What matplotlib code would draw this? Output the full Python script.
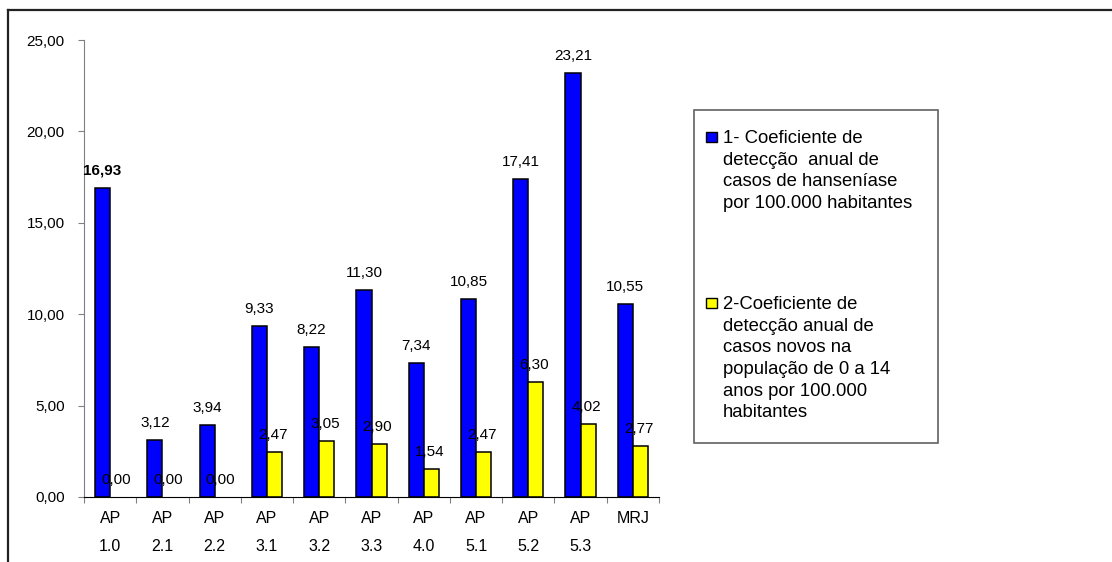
import numpy as np
import matplotlib.pyplot as plt
from matplotlib.lines import Line2D
from matplotlib.patches import Rectangle

plt.rcParams["font.family"] = ["Liberation Sans", "DejaVu Sans"]

areas = ["AP\n1.0", "AP\n2.1", "AP\n2.2", "AP\n3.1", "AP\n3.2", "AP\n3.3",
         "AP\n4.0", "AP\n5.1", "AP\n5.2", "AP\n5.3", "MRJ"]
coef_total = [16.93, 3.12, 3.94, 9.33, 8.22, 11.30, 7.34, 10.85, 17.41, 23.21, 10.55]
coef_0a14 = [0.00, 0.00, 0.00, 2.47, 3.05, 2.90, 1.54, 2.47, 6.30, 4.02, 2.77]
y_ticks = [0, 5, 10, 15, 20, 25]

legend_1 = "1- Coeficiente de\ndetecção  anual de\ncasos de hanseníase\npor 100.000 habitantes"
legend_2 = ("2-Coeficiente de\ndetecção anual de\ncasos novos na\n"
            "população de 0 a 14\nanos por 100.000\nhabitantes")

W, H = 1112, 562
fig = plt.figure(figsize=(W / 100, H / 100), dpi=100)
ax = fig.add_axes([84 / W, 1 - 497 / H, (659 - 84) / W, (497 - 40) / H])

x = np.arange(len(areas))
bw = 0.29
bars1 = ax.bar(x - bw / 2, coef_total, bw, color="#0000FF", edgecolor="black", linewidth=1.1)
bars2 = ax.bar(x + bw / 2, coef_0a14, bw, color="#FFFF00", edgecolor="black", linewidth=1.1)
# zero-valued bars have nothing to show
for b, v in zip(bars2, coef_0a14):
    if v == 0:
        b.set_edgecolor("none")

def fmt(v):
    return f"{v:.2f}".replace(".", ",")

for i, b in enumerate(bars1):
    ax.annotate(fmt(coef_total[i]), (b.get_x() + b.get_width() / 2, b.get_height()),
                xytext=(0, 17), textcoords="offset pixels", ha="center", va="center",
                fontsize=11, fontweight="bold" if i == 0 else "normal")
for i, b in enumerate(bars2):
    ax.annotate(fmt(coef_0a14[i]), (b.get_x() + b.get_width() / 2, b.get_height()),
                xytext=(-2, 17), textcoords="offset pixels", ha="center", va="center",
                fontsize=11)

ax.set_xlim(-0.5, len(areas) - 0.5)
ax.set_ylim(0, 25)
ax.set_yticks(y_ticks)
ax.set_yticklabels([fmt(v) for v in y_ticks], fontsize=11)

# category boundaries carry the tick marks, labels sit at the centres
ax.set_xticks(np.arange(len(areas) + 1) - 0.5)
ax.set_xticklabels([])
ax.set_xticks(x, minor=True)
ax.set_xticklabels(areas, minor=True, fontsize=11.5, linespacing=2.1)
ax.tick_params(axis="x", which="minor", length=0, pad=10)
ax.tick_params(axis="x", which="major", length=4, color="#808080")
ax.tick_params(axis="y", length=4, color="#808080", pad=10)

for s in ["top", "right"]:
    ax.spines[s].set_visible(False)
ax.spines["left"].set_color("#808080")
ax.spines["bottom"].set_color("black")

# legend box
fig.add_artist(Rectangle((694 / W, 1 - 443 / H), (938 - 694) / W, (443 - 110) / H,
                         transform=fig.transFigure, facecolor="white",
                         edgecolor="#606060", linewidth=1.2))
for ly, col, txt in [(137, "#0000FF", legend_1), (303, "#FFFF00", legend_2)]:
    fig.add_artist(Rectangle((706 / W, 1 - (ly + 5) / H), 11 / W, 10 / H,
                             transform=fig.transFigure, facecolor=col,
                             edgecolor="black", linewidth=1))
    fig.text(723 / W, 1 - (ly - 7) / H, txt, fontsize=13.3, va="top", ha="left",
             linespacing=1.36)

# outer frame (top and left edges)
fig.add_artist(Line2D([7.5 / W, 1], [1 - 9.5 / H, 1 - 9.5 / H], color="#222222", lw=1.6))
fig.add_artist(Line2D([7.5 / W, 7.5 / W], [0, 1 - 9.5 / H], color="#222222", lw=1.6))

fig.savefig("out.png", dpi=100)
